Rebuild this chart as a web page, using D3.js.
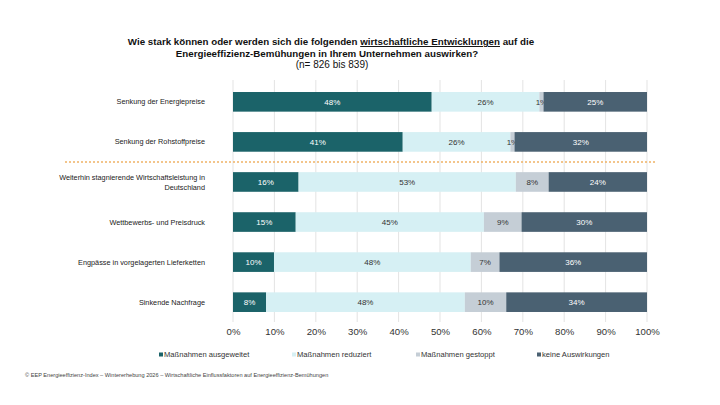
<!DOCTYPE html>
<html><head><meta charset="utf-8">
<script src="https://cdn.jsdelivr.net/npm/d3@7"></script>
<style>body{margin:0;background:#fff;}svg{display:block;font-family:"Liberation Sans",Arial,sans-serif;}</style>
</head><body>
<svg id="c" width="720" height="405"></svg>
<script>
const categories = [
  ["Senkung der Energiepreise"],
  ["Senkung der Rohstoffpreise"],
  ["Weiterhin stagnierende Wirtschaftsleistung in","Deutschland"],
  ["Wettbewerbs- und Preisdruck"],
  ["Engpässe in vorgelagerten Lieferketten"],
  ["Sinkende Nachfrage"]
];
const seriesNames = ["Maßnahmen ausgeweitet","Maßnahmen reduziert","Maßnahmen gestoppt","keine Auswirkungen"];
const ausgeweitet = [48,41,16,15,10,8];
const reduziert   = [26,26,53,45,48,48];
const gestoppt    = [1,1,8,9,7,10];
const keine       = [25,32,24,30,36,34];
const ticks = [0,10,20,30,40,50,60,70,80,90,100];
const colors = ["#1b6369","#d6f0f4","#c5ced6","#4a6172"];
const labelColors = ["#ffffff","#333333","#333333","#ffffff"];

const svg = d3.select("#c");
const x = d3.scaleLinear().domain([0,100]).range([233,647]);
const y = d3.scaleBand().domain(d3.range(categories.length)).range([82,322]).paddingInner(0.51).paddingOuter(0.25);

// title
const title = svg.append("g").attr("text-anchor","middle").attr("fill","#111");
const t1 = title.append("text").attr("x",331).attr("y",45).attr("font-size",9.75).attr("font-weight","bold");
t1.append("tspan").text("Wie stark können oder werden sich die folgenden ");
t1.append("tspan").attr("text-decoration","underline").text("wirtschaftliche Entwicklungen");
t1.append("tspan").text(" auf die");
title.append("text").attr("x",327).attr("y",56.5).attr("font-size",9.75).attr("font-weight","bold")
  .text("Energieeffizienz-Bemühungen in Ihrem Unternehmen auswirken?");
title.append("text").attr("x",332).attr("y",67.5).attr("font-size",10).text("(n= 826 bis 839)");

// grid
svg.append("g").selectAll("line").data(ticks).join("line")
  .attr("x1",d=>x(d)).attr("x2",d=>x(d)).attr("y1",80).attr("y2",322)
  .attr("stroke","#dcdcdc").attr("stroke-width",0.8);

// stacked data (shares shown as rounded labels; widths normalised to 100%)
const rows = categories.map((c,i)=>({i, vals:[ausgeweitet[i],reduziert[i],gestoppt[i],keine[i]]}));
const keys = [0,1,2,3];
const stackData = rows.map(r=>{const s=d3.sum(r.vals); const o={i:r.i, raw:r.vals}; keys.forEach(k=>o[k]=r.vals[k]*100/s); return o;});
const stacked = d3.stack().keys(keys)(stackData);

const layers = svg.append("g").selectAll("g").data(stacked).join("g");
layers.selectAll("rect").data(d=>d.map(p=>({p, key:d.key}))).join("rect")
  .attr("x",d=>x(d.p[0])).attr("width",d=>x(d.p[1])-x(d.p[0]))
  .attr("y",d=>y(d.p.data.i)).attr("height",y.bandwidth())
  .attr("fill",d=>colors[d.key]);
layers.selectAll("text").data(d=>d.map(p=>({p, key:d.key}))).join("text")
  .attr("x",d=>(x(d.p[0])+x(d.p[1]))/2).attr("y",d=>y(d.p.data.i)+y.bandwidth()/2+3)
  .attr("text-anchor","middle").attr("font-size",8)
  .attr("fill",d=>labelColors[d.key])
  .text(d=>d.p.data.raw[d.key]+"%");

// dotted separator
const sepY = (y(1)+y.bandwidth()+y(2))/2;
svg.append("line").attr("x1",65).attr("x2",657).attr("y1",sepY).attr("y2",sepY)
  .attr("stroke","#f0b366").attr("stroke-width",1.6).attr("stroke-dasharray","2,2");

// category labels
const cl = svg.append("g").attr("text-anchor","end").attr("font-size",7.3).attr("fill","#222");
categories.forEach((lines,i)=>{
  const cy = y(i)+y.bandwidth()/2;
  const t = cl.append("text").attr("x",205).attr("y",cy+2.6 - (lines.length-1)*5);
  lines.forEach((l,j)=>t.append("tspan").attr("x",205).attr("dy",j?10:0).text(l));
});

// axis
const ax = svg.append("g").attr("transform","translate(0,322)")
  .call(d3.axisBottom(x).tickValues(ticks).tickFormat(d=>d+"%").tickSize(0).tickPadding(6));
ax.select(".domain").remove();
ax.selectAll("text").attr("font-size",9.6).attr("fill","#333").attr("font-family","Liberation Sans, Arial, sans-serif");

// legend
const legX = [159,292,416,537];
const lg = svg.append("g").selectAll("g").data(seriesNames).join("g")
  .attr("transform",(d,i)=>`translate(${legX[i]},355)`);
lg.append("rect").attr("x",0).attr("y",-2.5).attr("width",4).attr("height",4).attr("fill",(d,i)=>colors[i]);
lg.append("text").attr("x",5).attr("y",2.2).attr("font-size",7.6).attr("fill","#333").text(d=>d);

// footer
svg.append("text").attr("x",25).attr("y",377).attr("font-size",5.6).attr("fill","#444")
  .text("© EEP Energieeffizienz-Index – Wintererhebung 2026 – Wirtschaftliche Einflussfaktoren auf Energieeffizienz-Bemühungen");
</script>
</body></html>
